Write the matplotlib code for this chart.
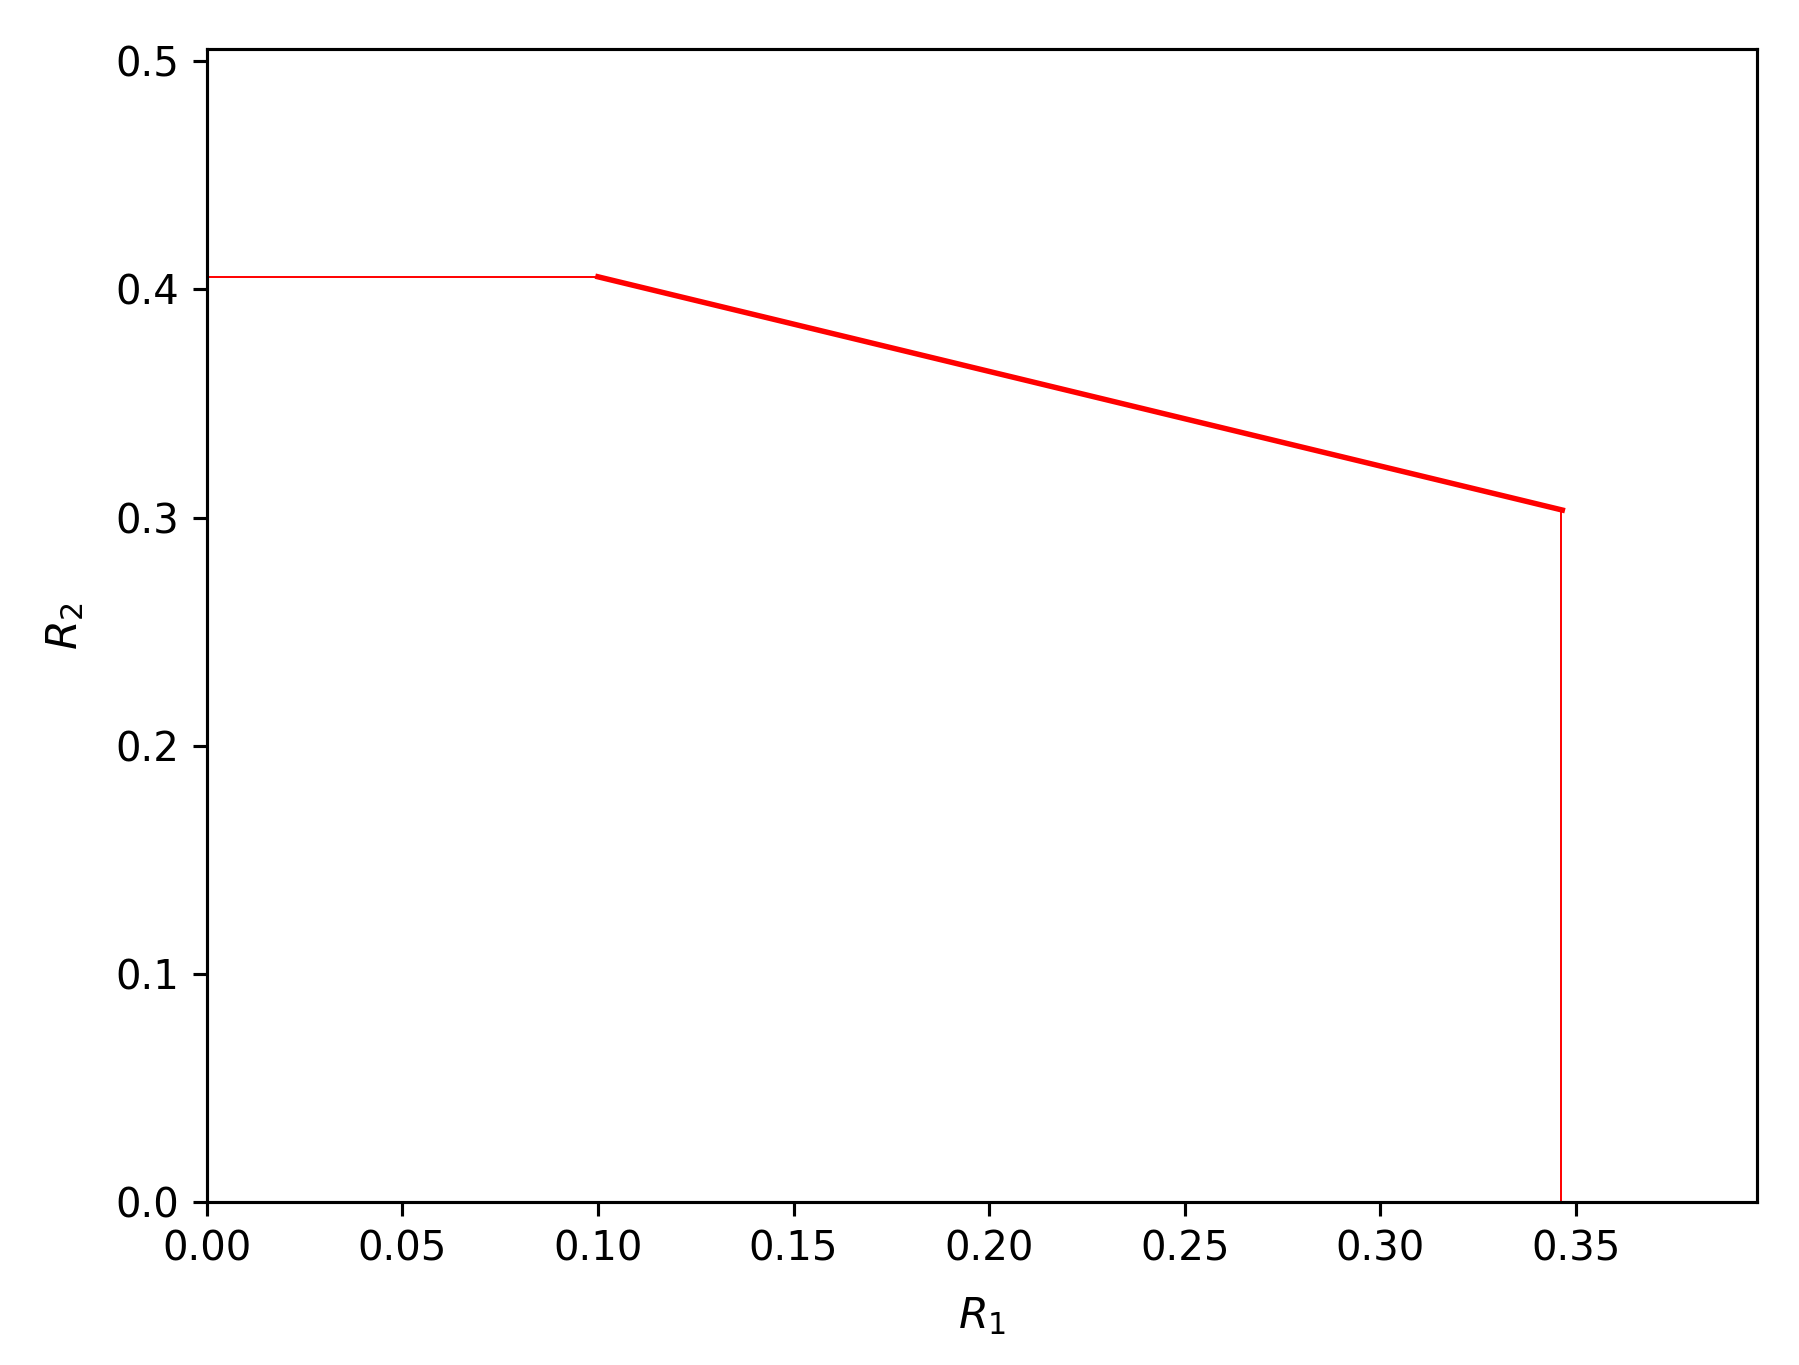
import matplotlib
matplotlib.use("Agg")
import matplotlib.pyplot as plt

# corner points of the rate region boundary
flat_r1 = [0.0, 0.1000]
flat_r2 = [0.4055, 0.4055]

slope_r1 = [0.1000, 0.3465]
slope_r2 = [0.4055, 0.3033]

vert_r1 = [0.3462, 0.3462]
vert_r2 = [0.3033, 0.0]

fig = plt.figure(figsize=(6.4, 1365 / 281.1), dpi=281.1)
ax = fig.add_axes([0.1149, 0.1192, 0.9767 - 0.1149, 0.9641 - 0.1192])

ax.plot(flat_r1, flat_r2, color="red", linewidth=0.5)
ax.plot(slope_r1, slope_r2, color="red", linewidth=1.4)
ax.plot(vert_r1, vert_r2, color="red", linewidth=0.5)

ax.set_xlim(0, 0.3963)
ax.set_ylim(0, 0.5053)
ax.set_xticks([0.0, 0.05, 0.10, 0.15, 0.20, 0.25, 0.30, 0.35])
ax.set_xticklabels(["0.00", "0.05", "0.10", "0.15", "0.20", "0.25", "0.30", "0.35"])
ax.set_yticks([0.0, 0.1, 0.2, 0.3, 0.4, 0.5])
ax.tick_params(labelsize=10.3)
ax.set_xlabel(r"$R_1$", fontsize=11, labelpad=6.5)
ax.set_ylabel(r"$R_2$", fontsize=11, labelpad=7.5)

fig.savefig("out.png", dpi=281.1)
